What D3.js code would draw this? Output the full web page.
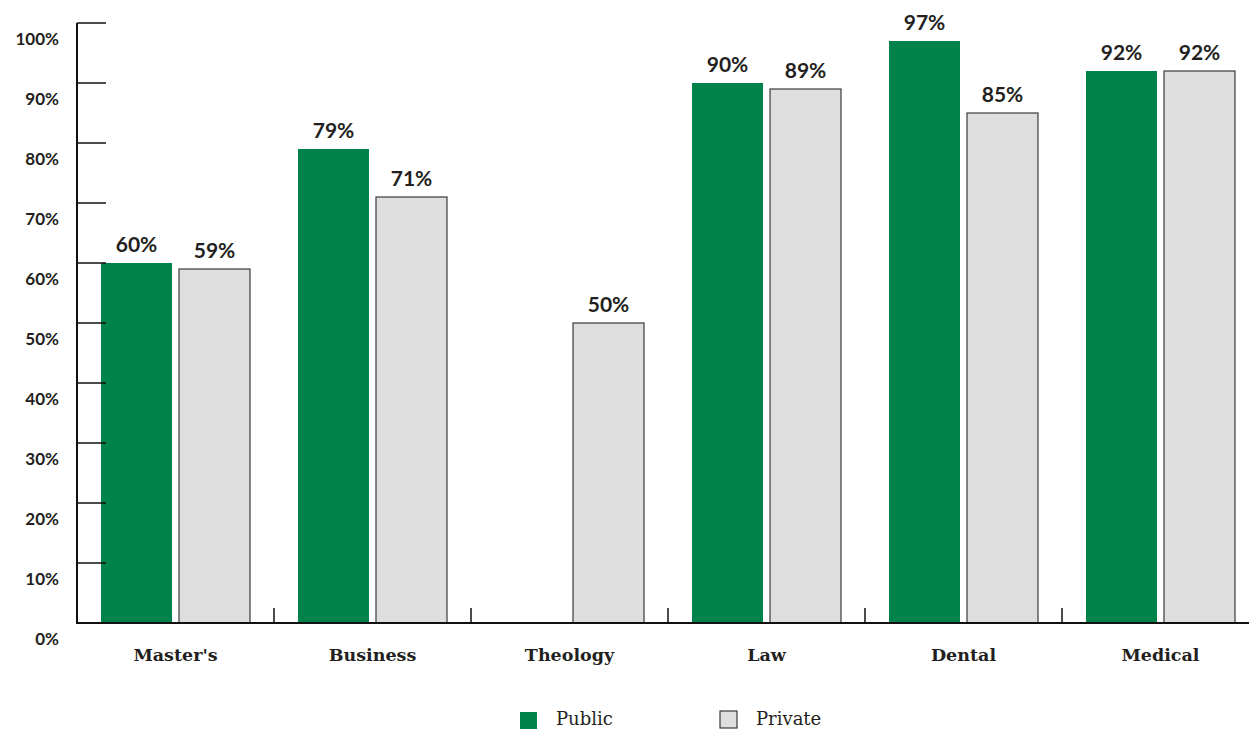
<!DOCTYPE html>
<html>
<head>
<meta charset="utf-8">
<script src="https://cdn.jsdelivr.net/npm/d3@7"></script>
<style>
  body { margin: 0; background: #fff; }
  .val { font-family: "Lato", "Open Sans", sans-serif; font-weight: 700; font-size: 21px; fill: #231f20; }
  .ylab { font-family: "Lato", "Open Sans", sans-serif; font-weight: 700; font-size: 17px; fill: #231f20; }
  .cat { font-family: "DejaVu Serif", "Liberation Serif", serif; font-weight: 700; font-size: 17.5px; fill: #231f20; }
</style>
</head>
<body>
<svg width="1249" height="730"></svg>
<script>
const categories = ["Master's", "Business", "Theology", "Law", "Dental", "Medical"];
const seriesNames = ["Public", "Private"];
const publicValues = [60, 79, null, 90, 97, 92];
const privateValues = [59, 71, 50, 89, 85, 92];
const yTicks = [0, 10, 20, 30, 40, 50, 60, 70, 80, 90, 100];

const colors = { Public: "#00834a", Private: "#dedede" };

const svg = d3.select("svg");
const plotLeft = 77, plotTop = 23, plotBottom = 623, bandW = 197;

const x0 = d3.scaleBand()
  .domain(categories)
  .range([plotLeft, plotLeft + bandW * categories.length]);

const x1 = d3.scaleBand()
  .domain(seriesNames)
  .range([0, x0.bandwidth()])
  .paddingInner(7 / 78)
  .paddingOuter(24 / 78);

const y = d3.scaleLinear().domain([0, 100]).range([plotBottom, plotTop]);

const rows = categories.map(function(c, i) {
  return { cat: c, values: [
    { key: "Public", v: publicValues[i] },
    { key: "Private", v: privateValues[i] }
  ] };
});

// Bars
const groups = svg.append("g").selectAll("g")
  .data(rows)
  .enter()
  .append("g")
  .attr("transform", function(d) { return "translate(" + x0(d.cat) + ",0)"; });

groups.selectAll("rect")
  .data(function(d) { return d.values.filter(function(e) { return e.v != null; }); })
  .enter()
  .append("rect")
  .attr("x", function(d) { return x1(d.key); })
  .attr("y", function(d) { return y(d.v); })
  .attr("width", x1.bandwidth())
  .attr("height", function(d) { return y(0) - y(d.v); })
  .attr("fill", function(d) { return colors[d.key]; })
  .attr("stroke", function(d) { return d.key === "Private" ? "#3a3a3a" : "none"; })
  .attr("stroke-width", 1.2);

groups.selectAll("text")
  .data(function(d) { return d.values.filter(function(e) { return e.v != null; }); })
  .enter()
  .append("text")
  .attr("class", "val")
  .attr("x", function(d) { return x1(d.key) + x1.bandwidth() / 2; })
  .attr("y", function(d) { return y(d.v) - 11; })
  .attr("text-anchor", "middle")
  .text(function(d) { return d.v + "%"; });

// Y axis
const yAxis = svg.append("g");
yAxis.append("line")
  .attr("x1", plotLeft).attr("x2", plotLeft)
  .attr("y1", y(100)).attr("y2", y(0))
  .attr("stroke", "#111").attr("stroke-width", 2);

yAxis.selectAll(".tick")
  .data(yTicks.filter(function(t) { return t > 0; }))
  .enter()
  .append("line")
  .attr("x1", plotLeft).attr("x2", plotLeft + 29)
  .attr("y1", function(d) { return y(d); })
  .attr("y2", function(d) { return y(d); })
  .attr("stroke", "#111").attr("stroke-width", 1.5);

yAxis.selectAll("text")
  .data(yTicks)
  .enter()
  .append("text")
  .attr("class", "ylab")
  .attr("x", 59)
  .attr("y", function(d) { return y(d) + 22; })
  .attr("text-anchor", "end")
  .text(function(d) { return d + "%"; });

// X axis
const xAxis = svg.append("g");
xAxis.append("line")
  .attr("x1", plotLeft - 1).attr("x2", 1249)
  .attr("y1", plotBottom).attr("y2", plotBottom)
  .attr("stroke", "#111").attr("stroke-width", 2);

xAxis.selectAll(".sep")
  .data(categories.slice(1))
  .enter()
  .append("line")
  .attr("x1", function(d) { return x0(d); })
  .attr("x2", function(d) { return x0(d); })
  .attr("y1", plotBottom - 15).attr("y2", plotBottom)
  .attr("stroke", "#111").attr("stroke-width", 1.5);

xAxis.selectAll("text")
  .data(categories)
  .enter()
  .append("text")
  .attr("class", "cat")
  .attr("x", function(d) { return x0(d) + x0.bandwidth() / 2; })
  .attr("y", 661)
  .attr("text-anchor", "middle")
  .text(function(d) { return d; });

// Legend
const legend = svg.append("g");
const legendX = [520, 720];
seriesNames.forEach(function(s, i) {
  legend.append("rect")
    .attr("x", legendX[i]).attr("y", i === 0 ? 712 : 711)
    .attr("width", 17).attr("height", 17)
    .attr("fill", colors[s])
    .attr("stroke", s === "Private" ? "#3a3a3a" : "none")
    .attr("stroke-width", 1.2);
  legend.append("text")
    .attr("class", "cat")
    .attr("x", legendX[i] + 36)
    .attr("y", 725)
    .style("font-weight", 400)
    .style("font-size", "18px")
    .text(s);
});
</script>
</body>
</html>
